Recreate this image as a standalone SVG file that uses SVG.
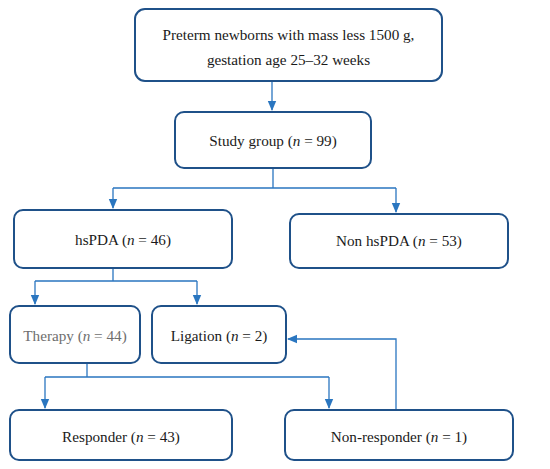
<svg xmlns="http://www.w3.org/2000/svg" width="550" height="469" viewBox="0 0 550 469">
<defs>
<marker id="arr" markerWidth="10" markerHeight="10" refX="9" refY="5" orient="auto" markerUnits="userSpaceOnUse">
<path d="M0,0.8 L10,5 L0,9.2 Z" fill="#2a76c0"/>
</marker>
<style>
.box{fill:#fff;stroke:#1f5189;stroke-width:2}
.t{font-family:"Liberation Serif","Times New Roman",serif;font-size:15.2px;fill:#1a1a1a;text-anchor:middle}
.i{font-style:italic}
.c{fill:none;stroke:#2a76c0;stroke-width:1.3}
</style>
</defs>
<rect width="550" height="469" fill="#fff"/>
<g id="connectors">
<path class="c" d="M272,81 V110" marker-end="url(#arr)"/>
<path class="c" d="M273,168 V188 M113,188 H396"/>
<path class="c" d="M113,188 V208" marker-end="url(#arr)"/>
<path class="c" d="M396,188 V212" marker-end="url(#arr)"/>
<path class="c" d="M113,268 V281 M35,281 H197"/>
<path class="c" d="M35,281 V304" marker-end="url(#arr)"/>
<path class="c" d="M197,281 V304" marker-end="url(#arr)"/>
<path class="c" d="M87,363 V377 M45,377 H329"/>
<path class="c" d="M45,377 V408" marker-end="url(#arr)"/>
<path class="c" d="M329,377 V408" marker-end="url(#arr)"/>
<path class="c" d="M396,410 V339 H288" marker-end="url(#arr)"/>
</g>
<g id="preterm">
<rect class="box" x="135" y="9" width="307" height="72" rx="10"/>
<text class="t" x="288.5" y="39.5">Preterm newborns with mass less 1500 g,</text>
<text class="t" x="288.5" y="65">gestation age 25–32 weeks</text>
</g>
<g id="study">
<rect class="box" x="175" y="112" width="196" height="56" rx="9"/>
<text class="t" x="273" y="146">Study group (<tspan class="i">n</tspan> = 99)</text>
</g>
<g id="hspda">
<rect class="box" x="14" y="210" width="218" height="58" rx="9"/>
<text class="t" x="123" y="245">hsPDA (<tspan class="i">n</tspan> = 46)</text>
</g>
<g id="nonhspda">
<rect class="box" x="290" y="214" width="218" height="54" rx="9"/>
<text class="t" x="399" y="246">Non hsPDA (<tspan class="i">n</tspan> = 53)</text>
</g>
<g id="therapy">
<rect class="box" x="10" y="306" width="130" height="57" rx="9"/>
<text class="t" x="75" y="341" style="fill:#6e6e6e">Therapy (<tspan class="i">n</tspan> = 44)</text>
</g>
<g id="ligation">
<rect class="box" x="152" y="306" width="134" height="57" rx="9"/>
<text class="t" x="219" y="341">Ligation (<tspan class="i">n</tspan> = 2)</text>
</g>
<g id="responder">
<rect class="box" x="10" y="410" width="222" height="50" rx="9"/>
<text class="t" x="121" y="442">Responder (<tspan class="i">n</tspan> = 43)</text>
</g>
<g id="nonresponder">
<rect class="box" x="285" y="410" width="228" height="50" rx="9"/>
<text class="t" x="399" y="442">Non-responder (<tspan class="i">n</tspan> = 1)</text>
</g>
</svg>
